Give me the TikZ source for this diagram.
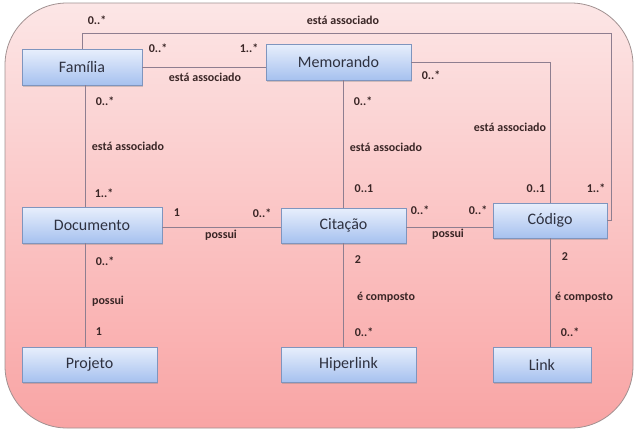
\documentclass[tikz,border=0pt]{standalone}
\usepackage{fontspec}
\setmainfont{Carlito}
\usetikzlibrary{shadows}
\definecolor{bgtop}{HTML}{FCE6E6}
\definecolor{bgbot}{HTML}{F9A4A4}
\definecolor{bxtop}{HTML}{E8EFFC}
\definecolor{bxbot}{HTML}{A6C1EF}
\definecolor{bxline}{HTML}{7F95BE}
\definecolor{bxtext}{HTML}{2E3140}
\definecolor{lbl}{HTML}{3A2626}
\definecolor{conn}{HTML}{8E7E90}
\tikzset{
  cls/.style={draw=bxline, line width=0.8pt, top color=bxtop, bottom color=bxbot,
    text=bxtext, font=\fontsize{16}{18}\selectfont, inner sep=0pt,
    drop shadow={opacity=0.35, shadow xshift=1pt, shadow yshift=-2pt}},
  lab/.style={text=lbl, font=\fontsize{12}{14}\selectfont\bfseries, inner sep=0pt},
  con/.style={draw=conn, line width=0.9pt}
}
\begin{document}
\begin{tikzpicture}[x=1pt,y=-1pt]
\useasboundingbox (0,0) rectangle (638,429);
\fill[white] (0,0) rectangle (638,429);
\draw[draw=gray!70!red!40!black!50, line width=0.8pt, top color=bgtop, bottom color=bgbot, rounded corners=62pt] (5,3) rectangle (633,428);
% classes
\node[cls, minimum width=120pt, minimum height=36pt] (fam) at (82,67) {Família};
\node[cls, minimum width=145pt, minimum height=36pt] (mem) at (338.5,62) {Memorando};
\node[cls, minimum width=140pt, minimum height=36pt] (doc) at (92,225) {Documento};
\node[cls, minimum width=125pt, minimum height=35pt] (cit) at (343.5,225.5) {Citação};
\node[cls, minimum width=114pt, minimum height=35pt] (cod) at (550,220.5) {Código};
\node[cls, minimum width=135pt, minimum height=35pt] (proj) at (89.5,364.5) {Projeto};
\node[cls, minimum width=135pt, minimum height=35pt] (hip) at (348.5,364.5) {Hiperlink};
\node[cls, minimum width=98pt, minimum height=35pt] (link) at (542,364.5) {Link};
\coordinate (ne) at (611,33);
% connectors
\begin{scope}[on background layer/.style={}]
\end{scope}
\draw[con] (fam.north) |- (ne) |- (cod.east);
\draw[con] (fam.east) -- (fam.east -| mem.west);
\draw[con] ([xshift=3pt]fam.south) -- ([xshift=3pt]fam.south |- doc.north);
\draw[con] ([xshift=-7pt]doc.south) -- ([xshift=-7pt]doc.south |- proj.north);
\draw[con] (cit.north) -- (cit.north |- mem.south);
\draw[con] (cit.south) -- (cit.south |- hip.north);
\draw[con] (mem.east) -| (cod.north);
\draw[con] (cod.south) -- (cod.south |- link.north);
\draw[con] ([yshift=-2pt]doc.east) -- ([yshift=-2pt]doc.east -| cit.west);
\draw[con] ([yshift=-2pt]cit.east) -- ([yshift=-2pt]cit.east -| cod.west);
% labels
\node[lab] (l1) at (97,20) {0..*};
\node[lab] (l2) at (343,20) {está associado};
\node[lab] (l3) at (158,48) {0..*};
\node[lab] (l4) at (249,48) {1..*};
\node[lab] (l5) at (205,77) {está associado};
\node[lab] (l6) at (105,101) {0..*};
\node[lab] (l7) at (128,146) {está associado};
\node[lab] (l8) at (104,193) {1..*};
\node[lab] (l9) at (431,75) {0..*};
\node[lab] (l10) at (363,101) {0..*};
\node[lab] (l11) at (386,147) {está associado};
\node[lab] (l12) at (510,127) {está associado};
\node[lab] (l13) at (364,189) {0..1};
\node[lab] (l14) at (536,189) {0..1};
\node[lab] (l15) at (596,188) {1..*};
\node[lab] (l16) at (177,213) {1};
\node[lab] (l17) at (262,213) {0..*};
\node[lab] (l18) at (221,235) {possui};
\node[lab] (l19) at (420,210) {0..*};
\node[lab] (l20) at (478,210) {0..*};
\node[lab] (l21) at (448,234) {possui};
\node[lab] (l22) at (105,261) {0..*};
\node[lab] (l23) at (108,301) {possui};
\node[lab] (l24) at (99,332) {1};
\node[lab] (l25) at (358,260) {2};
\node[lab] (l26) at (386,297) {é composto};
\node[lab] (l27) at (364,332) {0..*};
\node[lab] (l28) at (565,257) {2};
\node[lab] (l29) at (584,297) {é composto};
\node[lab] (l30) at (570,332) {0..*};
\end{tikzpicture}
\end{document}
